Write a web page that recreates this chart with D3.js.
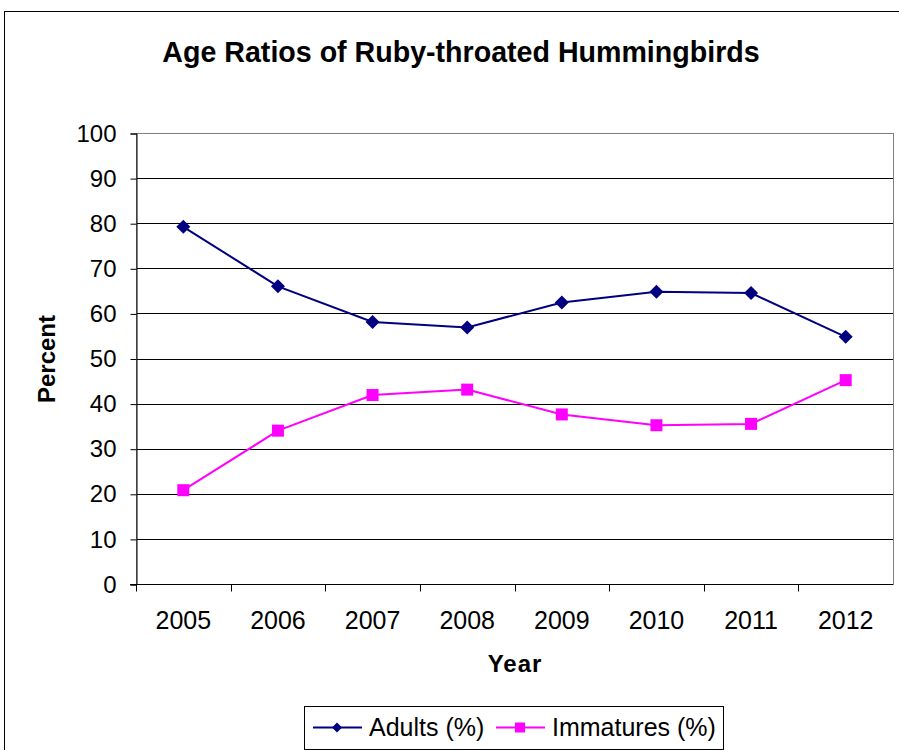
<!DOCTYPE html>
<html>
<head>
<meta charset="utf-8">
<script src="https://cdn.jsdelivr.net/npm/d3@7"></script>
<style>
  body { margin: 0; background: #fff; }
  svg { display: block; font-family: "Liberation Sans", Arial, sans-serif; }
</style>
</head>
<body>
<svg width="899" height="750"></svg>
<script>
// chart data
var years = ["2005", "2006", "2007", "2008", "2009", "2010", "2011", "2012"];
var adults = [79.2, 66, 58.1, 56.9, 62.4, 64.8, 64.5, 54.8];
var immatures = [20.8, 34, 41.9, 43.1, 37.6, 35.2, 35.5, 45.2];
var yTicks = [0, 10, 20, 30, 40, 50, 60, 70, 80, 90, 100];
var seriesNames = ["Adults (%)", "Immatures (%)"];
var seriesColors = ["#000080", "#ff00ff"];

const svg = d3.select("svg");
const plot = {left: 136, right: 893, top: 133, bottom: 584};

// outer frame, runs off the right and bottom edges
svg.append("rect")
    .attr("x", 4.5).attr("y", 11.5)
    .attr("width", 1000).attr("height", 1000)
    .attr("fill", "#fff").attr("stroke", "#000");

svg.append("text")
    .attr("x", 461).attr("y", 62)
    .attr("text-anchor", "middle")
    .attr("font-size", 28.6).attr("font-weight", "bold")
    .text("Age Ratios of Ruby-throated Hummingbirds");

const x = d3.scaleBand()
    .domain(years)
    .range([plot.left, plot.right]);
const y = d3.scaleLinear()
    .domain([0, 100])
    .range([plot.bottom, plot.top]);

// gridlines
svg.append("g")
    .selectAll("line")
    .data(yTicks.filter(d => d > 0))
    .enter()
    .append("line")
    .attr("x1", plot.left).attr("x2", plot.right)
    .attr("y1", d => Math.round(y(d)) + 0.5)
    .attr("y2", d => Math.round(y(d)) + 0.5)
    .attr("stroke", "#000");

// plot border
svg.append("rect")
    .attr("x", plot.left + 0.5).attr("y", plot.top + 0.5)
    .attr("width", plot.right - plot.left).attr("height", plot.bottom - plot.top)
    .attr("fill", "none").attr("stroke", "#808080");

// y axis
const yAxis = svg.append("g")
    .attr("transform", "translate(" + (plot.left + 0.5) + ",0.5)")
    .call(d3.axisLeft(y).tickValues(yTicks).tickSize(6).tickPadding(14));
yAxis.select(".domain").attr("stroke", "#000");
yAxis.selectAll("text").attr("font-size", 24).attr("fill", "#000")
    .attr("font-family", "Liberation Sans, Arial, sans-serif");

// x axis: ticks sit between categories
const xAxisG = svg.append("g")
    .attr("transform", "translate(0," + (plot.bottom + 0.5) + ")");
xAxisG.append("line")
    .attr("x1", plot.left - 6).attr("x2", plot.right)
    .attr("stroke", "#000");
xAxisG.selectAll(".tick")
    .data(years)
    .enter()
    .append("line")
    .attr("x1", d => Math.round(x(d)) + 0.5)
    .attr("x2", d => Math.round(x(d)) + 0.5)
    .attr("y1", 0).attr("y2", 7)
    .attr("stroke", "#000");
xAxisG.selectAll("text")
    .data(years)
    .enter()
    .append("text")
    .attr("x", d => x(d) + x.bandwidth() / 2)
    .attr("y", 44)
    .attr("text-anchor", "middle")
    .attr("font-size", 25)
    .text(d => d);

// axis titles
svg.append("text")
    .attr("transform", "translate(55,359) rotate(-90)")
    .attr("text-anchor", "middle")
    .attr("font-size", 24).attr("font-weight", "bold")
    .text("Percent");
svg.append("text")
    .attr("x", 515).attr("y", 672)
    .attr("text-anchor", "middle")
    .attr("font-size", 24).attr("font-weight", "bold")
    .attr("letter-spacing", 1)
    .text("Year");

// series
const cx = d => x(d) + x.bandwidth() / 2;
const line = d3.line()
    .x((d, i) => cx(years[i]))
    .y(d => y(d));

function diamond(g, s) {
    g.append("path").attr("d", "M0,-" + s + "L" + s + ",0L0," + s + "L-" + s + ",0Z")
        .attr("fill", seriesColors[0]);
}
function square(g, s) {
    g.append("rect").attr("x", -s).attr("y", -s).attr("width", 2 * s).attr("height", 2 * s)
        .attr("fill", seriesColors[1]);
}

[adults, immatures].forEach((vals, k) => {
    svg.append("path")
        .datum(vals)
        .attr("d", line)
        .attr("fill", "none")
        .attr("stroke", seriesColors[k])
        .attr("stroke-width", 2);
    svg.selectAll(".m" + k)
        .data(vals)
        .enter()
        .append("g")
        .attr("class", "m" + k)
        .attr("transform", (d, i) => "translate(" + cx(years[i]) + "," + y(d) + ")")
        .each(function() { k === 0 ? diamond(d3.select(this), 7) : square(d3.select(this), 6); });
});

// legend
const legend = svg.append("g");
legend.append("rect")
    .attr("x", 304.5).attr("y", 706.5)
    .attr("width", 419).attr("height", 43)
    .attr("fill", "#fff").attr("stroke", "#000");
const legendItems = [{x: 313, tx: 369}, {x: 496, tx: 552}];
legendItems.forEach((it, k) => {
    legend.append("line")
        .attr("x1", it.x).attr("x2", it.x + 49)
        .attr("y1", 727.5).attr("y2", 727.5)
        .attr("stroke", seriesColors[k]).attr("stroke-width", 2);
    const g = legend.append("g").attr("transform", "translate(" + (it.x + 24) + ",727.5)");
    k === 0 ? diamond(g, 5) : square(g, 5);
    legend.append("text")
        .attr("x", it.tx).attr("y", 736)
        .attr("font-size", 25)
        .text(seriesNames[k]);
});
</script>
</body>
</html>
